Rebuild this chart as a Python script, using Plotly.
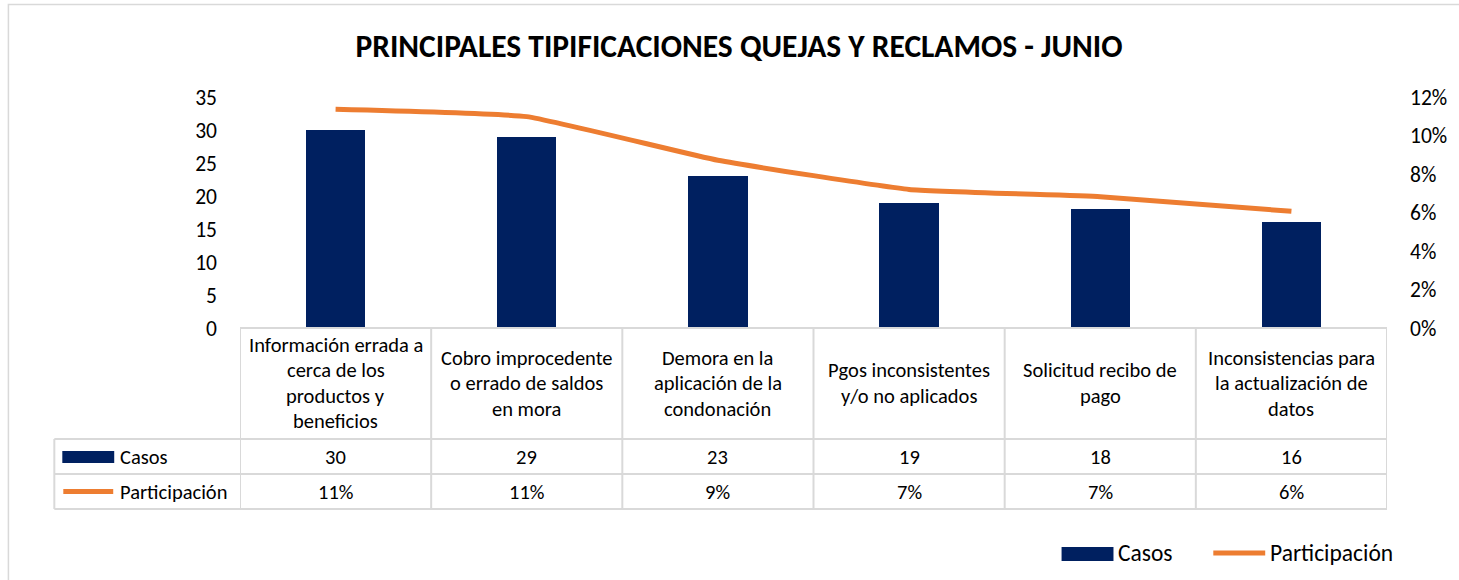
import plotly.graph_objects as go

# ---------------- data ----------------
categories = [
    "Información errada a<br>cerca de los<br>productos y<br>beneficios",
    "Cobro improcedente<br>o errado de saldos<br>en mora",
    "Demora en la<br>aplicación de la<br>condonación",
    "Pgos inconsistentes<br>y/o no aplicados",
    "Solicitud recibo de<br>pago",
    "Inconsistencias para<br>la actualización de<br>datos",
]
casos = [30, 29, 23, 19, 18, 16]
participacion = [0.1136, 0.1098, 0.0871, 0.0720, 0.0682, 0.0606]
participacion_labels = ["11%", "11%", "9%", "7%", "7%", "6%"]
title_text = "PRINCIPALES TIPIFICACIONES QUEJAS Y RECLAMOS - JUNIO"
series_names = ["Casos", "Participación"]

# ---------------- style ----------------
W, H = 1459, 580
L, R, T, B = 240, 1389, 97, 328      # plot area in page pixels
FONT = "Calibri, Carlito, Lato, sans-serif"
NAVY = "#002060"
ORANGE = "#ED7D31"
GRID = "#D9D9D9"
TXT = "#000000"

def px(x):
    return (x - L) / (R - L)

def py(y):
    return (B - y) / (B - T)

idx = list(range(len(categories)))

fig = go.Figure()
fig.add_trace(go.Bar(
    x=idx, y=casos, name=series_names[0], marker=dict(color=NAVY, line=dict(width=0)),
    width=0.31, yaxis="y", showlegend=False, hoverinfo="skip",
))
fig.add_trace(go.Scatter(
    x=idx, y=participacion, name=series_names[1], mode="lines",
    line=dict(color=ORANGE, width=5, shape="spline", smoothing=0.35),
    yaxis="y2", showlegend=False, hoverinfo="skip",
))

shapes = []
annotations = []

# outer chart frame
shapes.append(dict(type="rect", xref="paper", yref="paper",
                   x0=px(8), x1=px(1475), y0=py(4.5), y1=py(595),
                   line=dict(color=GRID, width=1.5), fillcolor="rgba(0,0,0,0)", layer="below"))

# data table geometry (page pixels)
hdr_top, hdr_bot, row1_bot, row2_bot = 328, 439, 474, 509
left_col = 54
line_style = dict(color=GRID, width=2)

shapes.append(dict(type="line", xref="paper", yref="paper", x0=px(L), x1=px(R),
                   y0=py(hdr_top), y1=py(hdr_top), line=line_style))
for yy in (hdr_bot, row1_bot, row2_bot):
    shapes.append(dict(type="line", xref="paper", yref="paper", x0=px(left_col), x1=px(R),
                       y0=py(yy), y1=py(yy), line=line_style))
n = len(categories)
for k in range(n + 1):
    xx = -0.5 + k
    shapes.append(dict(type="line", xref="x", yref="paper", x0=xx, x1=xx,
                       y0=py(hdr_top), y1=py(row2_bot), line=line_style))
shapes.append(dict(type="line", xref="paper", yref="paper", x0=px(left_col), x1=px(left_col),
                   y0=py(hdr_bot), y1=py(row2_bot), line=line_style))

TS = 20.5
line_gap = 25.5
hdr_mid = (hdr_top + hdr_bot) / 2 - 0.5
for i, cat in enumerate(categories):
    lines = cat.split("<br>")
    m = len(lines)
    for j, ln in enumerate(lines):
        yc = hdr_mid + (j - (m - 1) / 2) * line_gap
        annotations.append(dict(x=i, y=py(yc), xref="x", yref="paper", text=ln,
                                showarrow=False, xanchor="center", yanchor="middle",
                                font=dict(family=FONT, size=TS, color=TXT)))

r1_mid = (hdr_bot + row1_bot) / 2
r2_mid = (row1_bot + row2_bot) / 2
for i in idx:
    annotations.append(dict(x=i, y=py(r1_mid), xref="x", yref="paper", text=str(casos[i]),
                            showarrow=False, xanchor="center", yanchor="middle",
                            font=dict(family=FONT, size=TS, color=TXT)))
    annotations.append(dict(x=i, y=py(r2_mid), xref="x", yref="paper", text=participacion_labels[i],
                            showarrow=False, xanchor="center", yanchor="middle",
                            font=dict(family=FONT, size=TS, color=TXT)))

# legend keys inside the table
shapes.append(dict(type="rect", xref="paper", yref="paper", x0=px(62), x1=px(114),
                   y0=py(463), y1=py(451), fillcolor=NAVY, line=dict(width=0)))
shapes.append(dict(type="line", xref="paper", yref="paper", x0=px(63), x1=px(113),
                   y0=py(r2_mid), y1=py(r2_mid), line=dict(color=ORANGE, width=5)))
annotations.append(dict(x=px(118), y=py(r1_mid), xref="paper", yref="paper", text=series_names[0],
                        showarrow=False, xanchor="left", yanchor="middle",
                        font=dict(family=FONT, size=TS, color=TXT)))
annotations.append(dict(x=px(118), y=py(r2_mid), xref="paper", yref="paper", text=series_names[1],
                        showarrow=False, xanchor="left", yanchor="middle",
                        font=dict(family=FONT, size=TS, color=TXT)))

# bottom legend
leg_y = 553
shapes.append(dict(type="rect", xref="paper", yref="paper", x0=px(1063), x1=px(1115),
                   y0=py(561), y1=py(547), fillcolor=NAVY, line=dict(width=0)))
shapes.append(dict(type="line", xref="paper", yref="paper", x0=px(1215), x1=px(1267),
                   y0=py(leg_y), y1=py(leg_y), line=dict(color=ORANGE, width=5)))
annotations.append(dict(x=px(1118), y=py(leg_y), xref="paper", yref="paper", text=series_names[0],
                        showarrow=False, xanchor="left", yanchor="middle",
                        font=dict(family=FONT, size=23.5, color=TXT)))
annotations.append(dict(x=px(1270), y=py(leg_y), xref="paper", yref="paper", text=series_names[1],
                        showarrow=False, xanchor="left", yanchor="middle",
                        font=dict(family=FONT, size=23.5, color=TXT)))

fig.update_layout(
    width=W, height=H,
    margin=dict(l=L, r=W - R, t=T, b=H - B, pad=0),
    paper_bgcolor="white", plot_bgcolor="white",
    title=dict(text=f"<b>{title_text}</b>", x=739 / W, xanchor="center",
               y=1 - 46 / H, yanchor="middle",
               font=dict(family=FONT, size=31.5, color=TXT)),
    xaxis=dict(range=[-0.5, n - 0.5], showticklabels=False, showgrid=False, zeroline=False,
               showline=False, ticks="", fixedrange=True),
    yaxis=dict(range=[0, 35], dtick=5, showgrid=False, zeroline=False, showline=False, ticks="",
               tickfont=dict(family=FONT, size=21.5, color=TXT), ticklabelstandoff=22),
    yaxis2=dict(range=[0, 0.12], dtick=0.02, tickformat=".0%", overlaying="y", side="right",
                showgrid=False, zeroline=False, showline=False, ticks="",
                tickfont=dict(family=FONT, size=21.5, color=TXT), ticklabelstandoff=22),
    shapes=shapes, annotations=annotations, showlegend=False, bargap=0,
)

fig.write_html(
    "out.html",
    config={"displayModeBar": False},
    post_script="document.body.style.margin='0px';document.body.style.overflow='hidden';",
)
